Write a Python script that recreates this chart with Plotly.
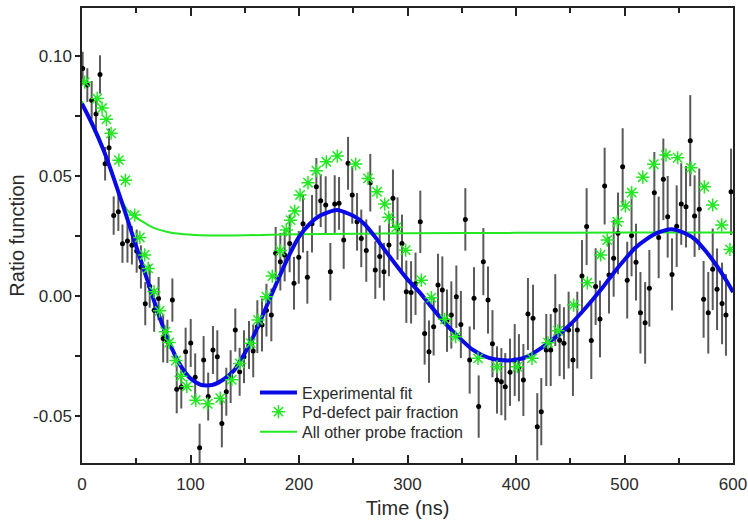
import plotly.graph_objects as go

t_data = [0.6, 4.9, 8.9, 12.9, 16.6, 21.3, 24.9, 29.2, 33.5, 37.3,
          41.9, 46.0, 50.4, 54.3, 58.3, 62.4, 66.5, 70.6, 74.8, 78.7,
          83.3, 87.3, 91.5, 95.5, 100.2, 104.3, 108.4, 112.1, 116.3, 120.7,
          124.7, 128.9, 133.0, 137.0, 141.3, 145.3, 149.3, 153.9, 157.8, 161.6,
          165.9, 170.0, 174.5, 178.5, 182.8, 186.8, 191.4, 195.4, 199.8, 203.7,
          207.7, 212.0, 216.0, 220.0, 224.6, 228.9, 232.9, 236.9, 241.2, 245.2,
          249.1, 253.5, 257.4, 262.0, 265.7, 270.3, 274.4, 278.3, 282.9, 286.6,
          290.8, 294.9, 298.9, 303.3, 307.4, 311.8, 315.8, 319.8, 324.1, 328.1,
          332.1, 336.4, 340.4, 345.0, 349.2, 353.3, 357.3, 361.3, 365.6, 369.9,
          374.2, 378.3, 382.5, 386.5, 390.1, 394.5, 398.8, 402.7, 406.8, 411.0,
          415.7, 419.6, 423.3, 427.9, 432.0, 436.2, 440.2, 444.2, 448.5, 452.5,
          456.5, 460.8, 465.1, 469.4, 473.4, 477.4, 481.7, 485.7, 490.0, 494.0,
          498.3, 502.5, 506.5, 510.6, 514.7, 519.0, 522.9, 527.5, 531.5, 535.8,
          539.8, 543.8, 548.1, 552.3, 556.7, 560.6, 564.6, 568.9, 572.9, 577.2,
          581.3, 585.3, 589.9, 593.5, 598.2]
r_data = [0.0947, 0.0878, 0.0815, 0.0757, 0.0922, 0.0550, 0.0617, 0.0334, 0.0350, 0.0217,
          0.0228, 0.0210, 0.0186, 0.0120, -0.0033, 0.0040, -0.0060, -0.0012, -0.0178, -0.0190,
          -0.0018, -0.0390, -0.0380, -0.0233, -0.0197, -0.0340, -0.0633, -0.0268, -0.0420, -0.0226,
          -0.0254, -0.0532, -0.0400, -0.0337, -0.0143, -0.0317, -0.0254, -0.0205, -0.0230, -0.0129,
          -0.0122, -0.0060, -0.0080, 0.0177, 0.0142, 0.0170, 0.0218, 0.0052, 0.0160, 0.0300,
          0.0077, 0.0300, 0.0454, 0.0396, 0.0378, 0.0100, 0.0382, 0.0385, 0.0232, 0.0552,
          0.0420, 0.0308, 0.0239, 0.0188, 0.0471, 0.0107, 0.0163, 0.0100, 0.0211, 0.0406,
          0.0280, 0.0218, 0.0017, 0.0014, 0.0050, 0.0308, -0.0157, -0.0233, -0.0129, 0.0045,
          0.0024, -0.0104, -0.0080, -0.0004, -0.0120, 0.0318, -0.0268, -0.0011, -0.0462, 0.0142,
          -0.0018, -0.0200, -0.0351, -0.0358, -0.0379, -0.0319, -0.0268, -0.0300, -0.0351, -0.0076,
          -0.0094, -0.0546, -0.0483, -0.0226, -0.0226, -0.0060, -0.0185, -0.0198, -0.0143, -0.0268,
          -0.0143, 0.0082, 0.0288, -0.0187, 0.0038, -0.0097, 0.0457, 0.0086, 0.0156, 0.0260,
          0.0538, 0.0065, 0.0251, 0.0140, -0.0071, -0.0113, 0.0031, 0.0429, 0.0243, 0.0485,
          0.0329, 0.0089, 0.0290, 0.0382, 0.0371, 0.0646, 0.0332, 0.0360, -0.0015, -0.0071,
          0.0110, 0.0027, -0.0032, -0.0080, 0.0433]
r_err = [0.007, 0.007, 0.008, 0.007, 0.008, 0.007, 0.008, 0.008, 0.008, 0.008,
         0.009, 0.008, 0.009, 0.009, 0.009, 0.009, 0.009, 0.009, 0.010, 0.009,
         0.009, 0.010, 0.009, 0.010, 0.010, 0.010, 0.010, 0.010, 0.010, 0.010,
         0.011, 0.010, 0.010, 0.011, 0.009, 0.010, 0.011, 0.010, 0.011, 0.011,
         0.011, 0.011, 0.011, 0.011, 0.012, 0.011, 0.012, 0.011, 0.011, 0.012,
         0.011, 0.012, 0.012, 0.011, 0.012, 0.012, 0.012, 0.011, 0.012, 0.011,
         0.012, 0.012, 0.012, 0.013, 0.012, 0.012, 0.013, 0.012, 0.013, 0.012,
         0.013, 0.012, 0.013, 0.013, 0.013, 0.013, 0.013, 0.013, 0.012, 0.013,
         0.014, 0.013, 0.014, 0.013, 0.014, 0.013, 0.014, 0.013, 0.013, 0.014,
         0.014, 0.014, 0.014, 0.014, 0.014, 0.014, 0.015, 0.014, 0.015, 0.015,
         0.014, 0.014, 0.014, 0.015, 0.015, 0.015, 0.015, 0.015, 0.016, 0.015,
         0.016, 0.015, 0.016, 0.016, 0.016, 0.016, 0.016, 0.016, 0.016, 0.017,
         0.016, 0.016, 0.017, 0.016, 0.017, 0.017, 0.016, 0.017, 0.017, 0.017,
         0.017, 0.015, 0.017, 0.017, 0.017, 0.019, 0.017, 0.017, 0.016, 0.017,
         0.017, 0.017, 0.017, 0.017, 0.018]

# Pd-defect pair fraction (asterisks)
t_pair = [2.5, 14.0, 18.5, 22.5, 26.8, 34.0, 40.0, 48.6, 53.3, 57.8,
          61.0, 66.4, 71.5, 76.8, 80.4, 86.6, 91.2, 96.6, 104.9, 115.8,
          127.4, 138.0, 145.4, 155.5, 162.2, 169.9, 175.4, 182.8, 188.3, 192.3,
          196.0, 201.0, 208.3, 216.0, 225.2, 235.3, 252.2, 263.6, 271.9, 279.0,
          282.7, 289.7, 298.3, 312.7, 322.0, 334.3, 344.4, 365.0, 382.5, 401.2,
          414.7, 429.5, 438.7, 453.2, 465.7, 478.0, 484.1, 493.4, 500.8, 506.6,
          516.9, 526.9, 538.2, 549.0, 561.3, 573.6, 581.3, 589.6, 597.2]
r_pair = [0.0890, 0.0822, 0.0782, 0.0735, 0.0677, 0.0565, 0.0481, 0.0336, 0.0243, 0.0170,
          0.0114, 0.0017, -0.0063, -0.0150, -0.0195, -0.0270, -0.0336, -0.0378, -0.0435, -0.0450,
          -0.0427, -0.0350, -0.0282, -0.0198, -0.0101, -0.0004, 0.0082, 0.0188, 0.0274, 0.0315,
          0.0353, 0.0420, 0.0471, 0.0521, 0.0558, 0.0582, 0.0549, 0.0489, 0.0433, 0.0382,
          0.0327, 0.0285, 0.0190, 0.0065, -0.0008, -0.0098, -0.0171, -0.0261, -0.0296, -0.0296,
          -0.0261, -0.0196, -0.0146, -0.0039, 0.0054, 0.0170, 0.0232, 0.0308, 0.0374, 0.0430,
          0.0494, 0.0548, 0.0586, 0.0575, 0.0533, 0.0454, 0.0378, 0.0295, 0.0193]

# experimental fit (blue)
t_fit = [0, 10, 20, 30, 40, 50, 60, 70, 80, 90, 100, 110, 120, 130, 140, 150,
         160, 170, 180, 190, 200, 210, 220, 235, 250, 260, 270, 280, 290, 300,
         310, 320, 330, 340, 350, 360, 370, 380, 392, 400, 410, 420, 430, 440,
         450, 460, 470, 480, 490, 500, 510, 520, 530, 543, 555, 565, 575, 585,
         595, 600]
r_fit = [0.0800, 0.0710, 0.0605, 0.0480, 0.0345, 0.0205, 0.0068, -0.0070, -0.0190, -0.0285,
         -0.0345, -0.0372, -0.0372, -0.0350, -0.0312, -0.0240, -0.0150, -0.0045, 0.0060, 0.0160,
         0.0245, 0.0300, 0.0335, 0.0357, 0.0333, 0.0300, 0.0246, 0.0185, 0.0125, 0.0068,
         0.0020, -0.0035, -0.0090, -0.0140, -0.0185, -0.0225, -0.0250, -0.0265, -0.0270, -0.0267,
         -0.0255, -0.0228, -0.0195, -0.0160, -0.0120, -0.0072, -0.0020, 0.0035, 0.0095, 0.0150,
         0.0200, 0.0235, 0.0262, 0.0277, 0.0262, 0.0235, 0.0185, 0.0125, 0.0055, 0.0015]

# all other probe fraction (green line)
t_other = [0, 8, 16.6, 25.8, 38, 45, 53.5, 65, 78, 90, 109, 140, 200, 300, 400, 500, 600]
r_other = [0.0810, 0.0720, 0.0635, 0.0538, 0.0385, 0.0340, 0.0315, 0.0285, 0.0267, 0.0258,
           0.0252, 0.0251, 0.0256, 0.0260, 0.0262, 0.0263, 0.0263]

FONT = "Liberation Sans, Arial, sans-serif"
GREEN = "#22e822"
y_range = [-0.0697, 0.1199]

fig = go.Figure()

fig.add_trace(go.Scatter(
    x=t_data, y=r_data, mode="markers", showlegend=False,
    marker=dict(color="black", size=5),
    error_y=dict(type="data", array=r_err, color="#5a5a5a", thickness=2, width=0),
))
fig.add_trace(go.Scatter(
    x=t_other, y=r_other, mode="lines", name="All other probe fraction", legend="legend3",
    line=dict(color=GREEN, width=2, shape="spline", smoothing=0.8),
))
fig.add_trace(go.Scatter(
    x=t_fit, y=r_fit, mode="lines", name="Experimental fit", legend="legend",
    line=dict(color="#0a0ae6", width=4, shape="spline", smoothing=0.6),
))
fig.add_trace(go.Scatter(
    x=t_pair, y=r_pair, mode="markers", name="Pd-defect pair fraction", legend="legend2",
    marker=dict(symbol="asterisk-open", size=11, color=GREEN, line=dict(color=GREEN, width=1.5)),
))

leg = dict(x=0.2657, xanchor="left", yanchor="top", bgcolor="rgba(0,0,0,0)",
           font=dict(size=16, color="#2a2a2a"), itemwidth=37)

fig.update_layout(
    width=748, height=522, autosize=False,
    margin=dict(l=82, r=15, t=8, b=59),
    paper_bgcolor="white", plot_bgcolor="white",
    font=dict(family=FONT, size=17, color="#2a2a2a"),
    legend=dict(leg, y=0.192),
    legend2=dict(leg, y=0.150),
    legend3=dict(leg, y=0.106),
    xaxis=dict(
        range=[0, 600], tickvals=[0, 100, 200, 300, 400, 500, 600],
        ticks="inside", ticklen=8, tickwidth=1.5, tickcolor="#222",
        minor=dict(dtick=50, ticks="inside", ticklen=5, tickwidth=1.5, tickcolor="#222"),
        showline=True, linecolor="#222", linewidth=1.5, mirror="ticks",
        showgrid=False, zeroline=False, ticklabelstandoff=5, automargin=False,
        title=dict(text="Time (ns)", standoff=8),
    ),
    yaxis=dict(
        range=y_range, tickvals=[-0.05, 0.0, 0.05, 0.10],
        ticktext=["-0.05", "0.00", "0.05", "0.10"],
        ticks="outside", ticklen=5, tickwidth=1.5, tickcolor="#222",
        minor=dict(dtick=0.025, tick0=0, ticks="outside", ticklen=5, tickwidth=1.5, tickcolor="#222"),
        showline=True, linecolor="#222", linewidth=1.5, mirror=True,
        showgrid=False, zeroline=False, automargin=False,
        title=dict(text="Ratio function", standoff=3),
    ),
    yaxis2=dict(
        overlaying="y", side="right", range=y_range,
        tickvals=[-0.05, 0.0, 0.05, 0.10], showticklabels=False,
        ticks="inside", ticklen=8, tickwidth=1.5, tickcolor="#222",
        minor=dict(dtick=0.025, tick0=0, ticks="inside", ticklen=5, tickwidth=1.5, tickcolor="#222"),
        showline=False, showgrid=False, zeroline=False, automargin=False,
    ),
)

fig.write_html("out.html", config={"displayModeBar": False},
               post_script="document.body.style.margin='0';")
